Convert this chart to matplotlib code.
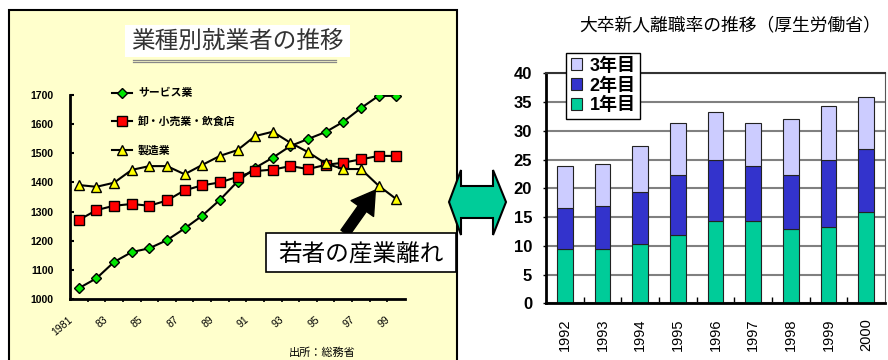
import matplotlib.pyplot as plt
import matplotlib.transforms as mtransforms
from matplotlib.patches import Rectangle, Polygon
from matplotlib.lines import Line2D
import numpy as np

plt.rcParams['font.family'] = ['Liberation Sans', 'Noto Sans CJK JP']

# [ DATA ]
#==========================================================================
years = [str(y) for y in range(1981, 2000)]
year_labels = ['1981', '83', '85', '87', '89', '91', '93', '95', '97', '99']
service = [1037, 1071, 1127, 1161, 1174, 1202, 1242, 1286, 1340, 1403,
           1450, 1485, 1525, 1549, 1573, 1608, 1655, 1697, 1697]
retail = [1271, 1305, 1320, 1326, 1320, 1338, 1373, 1390, 1400, 1419,
          1439, 1444, 1456, 1446, 1460, 1468, 1479, 1491, 1491]
manufacturing = [1391, 1385, 1399, 1443, 1456, 1456, 1428, 1460, 1491, 1511,
                 1559, 1574, 1536, 1504, 1465, 1446, 1446, 1389, 1343]

bar_years = ['1992', '1993', '1994', '1995', '1996', '1997', '1998', '1999', '2000']
first_year = [9.4, 9.4, 10.4, 11.9, 14.4, 14.4, 12.9, 13.3, 15.9]
second_year = [7.2, 7.6, 8.9, 10.5, 10.5, 9.5, 9.5, 11.6, 11.0]
third_year = [7.3, 7.3, 8.0, 8.9, 8.4, 7.4, 9.6, 9.4, 9.0]

W, H = 888, 360
def fx(px):
    return px / W
def fy(py):
    return 1 - py / H

fig = plt.figure(figsize=(8.88, 3.6), dpi=100)
CJK = ['Noto Sans CJK JP', 'DejaVu Sans']

# LEFT PANEL (yellow card)
#^^^^^^^^^^^^^^^^^^^^^^^^^^^^^^^^^^^^^^^^^^^^^^^^^^^^^^^^^^^^^^^^^^^^^^^^^^
fig.patches.append(Rectangle((fx(9), -0.05), fx(448), fy(10) + 0.05, transform=fig.transFigure,
                             facecolor='#FFFFCC', edgecolor='black', lw=1.5, zorder=-1))
fig.patches.append(Rectangle((fx(125), fy(57)), fx(225), 32 / H, transform=fig.transFigure,
                             facecolor='white', edgecolor='none', zorder=-0.5))
fig.text(fx(237), fy(41), '業種別就業者の推移', ha='center', va='center', fontsize=17,
         color='#333333', family=CJK)
for yy in (60, 62):
    fig.lines.append(Line2D([fx(133), fx(336)], [fy(yy), fy(yy)], transform=fig.transFigure,
                            color='#888888', lw=0.9))

ax1 = fig.add_axes([fx(70), fy(299), fx(335), 204 / H])
ax1.patch.set_visible(False)
x = np.arange(len(years))
ax1.plot(x, service, color='black', lw=1.5, marker='D', ms=5.5, mfc='#00E600', mec='black',
         mew=1, label='サービス業', zorder=3)
ax1.plot(x, retail, color='black', lw=1.5, marker='s', ms=7, mfc='#FF0000', mec='black',
         mew=1, label='卸・小売業・飲食店', zorder=3)
ax1.plot(x, manufacturing, color='black', lw=1.5, marker='^', ms=7.5, mfc='#FFFF00', mec='black',
         mew=1, label='製造業', zorder=3)

ax1.set_xlim(-0.5, len(years) - 0.5)
ax1.set_ylim(1000, 1700)
for s in ('top', 'right'):
    ax1.spines[s].set_visible(False)
for s in ('left', 'bottom'):
    ax1.spines[s].set_linewidth(2)

ax1.set_yticks(range(1000, 1701, 100))
ax1.tick_params(axis='y', direction='in', length=3, width=1.5, labelsize=7.5, pad=12)
for lab in ax1.get_yticklabels():
    lab.set_fontweight('bold')

ax1.set_xticks(x[::2])
ax1.set_xticklabels(year_labels, rotation=40, ha='right', va='center', rotation_mode='anchor',
                    fontsize=7.5)
ax1.tick_params(axis='x', which='major', length=0, pad=14)
ax1.set_xticks(np.arange(0.5, len(years) - 0.5, 1), minor=True)
ax1.tick_params(axis='x', which='minor', direction='out', length=2, width=1.2)
shift = mtransforms.ScaledTranslation(-7.5 / 100, 0, fig.dpi_scale_trans)
for lab in ax1.get_xticklabels():
    lab.set_transform(lab.get_transform() + shift)

ax1.legend(loc='upper left', bbox_to_anchor=(fx(112), fy(88)), bbox_transform=fig.transFigure,
           frameon=False, prop={'family': CJK, 'weight': 'bold', 'size': 7.8},
           handlelength=1.8, handletextpad=0.6, labelspacing=1.65, borderpad=0, borderaxespad=0)

# callout box + arrow
fig.patches.append(Rectangle((fx(266), fy(272)), fx(190), 39 / H, transform=fig.transFigure,
                             facecolor='white', edgecolor='black', lw=1.2, zorder=4))
fig.text(fx(361), fy(254), '若者の産業離れ', ha='center', va='center', fontsize=17,
         color='black', family=CJK, zorder=5)
ax1.annotate('', xy=(17, manufacturing[17]), xytext=(345, H - 233), textcoords='figure pixels',
             arrowprops=dict(arrowstyle='simple,head_length=0.9,head_width=1.1,tail_width=0.4',
                             mutation_scale=18, fc='black', ec='black', shrinkA=0, shrinkB=4))

fig.text(fx(322), fy(353), '出所：総務省', ha='center', va='center', fontsize=8, family=CJK)

# DOUBLE ARROW
#^^^^^^^^^^^^^^^^^^^^^^^^^^^^^^^^^^^^^^^^^^^^^^^^^^^^^^^^^^^^^^^^^^^^^^^^^^
arrow_pts = [(449, 202), (461, 170), (461, 186), (493, 186), (493, 170), (506, 202),
             (493, 235), (493, 218), (461, 218), (461, 235)]
fig.patches.append(Polygon([(fx(a), fy(b)) for a, b in arrow_pts], closed=True,
                           transform=fig.transFigure, facecolor='#00CC99', edgecolor='black', lw=1.5))

# RIGHT PANEL (stacked bars)
#^^^^^^^^^^^^^^^^^^^^^^^^^^^^^^^^^^^^^^^^^^^^^^^^^^^^^^^^^^^^^^^^^^^^^^^^^^
fig.text(fx(730), fy(25), '大卒新人離職率の推移（厚生労働省）', ha='center', va='center',
         fontsize=12.8, family=CJK)

ax2 = fig.add_axes([fx(546), fy(303.3), fx(339), 230 / H])
bx = np.arange(len(bar_years))
bw = 0.42
b1 = ax2.bar(bx, first_year, bw, color='#00CC99', edgecolor='#222222', lw=0.8, label='1年目')
b2 = ax2.bar(bx, second_year, bw, bottom=first_year, color='#3333CC', edgecolor='#222222',
             lw=0.8, label='2年目')
bottom3 = [a + b for a, b in zip(first_year, second_year)]
b3 = ax2.bar(bx, third_year, bw, bottom=bottom3, color='#CCCCFF', edgecolor='#222222',
             lw=0.8, label='3年目')

ax2.set_xlim(-0.5, len(bar_years) - 0.5)
ax2.set_ylim(0, 40)
ax2.set_yticks(range(0, 41, 5))
ax2.yaxis.grid(True, color='#808080', lw=1.5)
ax2.set_axisbelow(True)
for s in ('left', 'bottom'):
    ax2.spines[s].set_linewidth(2)
ax2.spines['top'].set_color('#333333')
ax2.spines['top'].set_linewidth(1.5)
ax2.spines['right'].set_color('#555555')
ax2.tick_params(axis='y', direction='out', length=2, width=1, labelsize=12, pad=8)
for lab in ax2.get_yticklabels():
    lab.set_fontweight('bold')
ax2.set_xticks(bx)
ax2.set_xticklabels(bar_years, rotation=90, fontsize=10.5)
ax2.tick_params(axis='x', which='major', length=0, pad=11)
ax2.set_xticks(np.arange(0.5, len(bar_years) - 0.5, 1), minor=True)
ax2.tick_params(axis='x', which='minor', direction='in', length=4, width=1)

leg = ax2.legend(handles=[b3, b2, b1], loc='upper left', bbox_to_anchor=(fx(566), fy(53)),
                 bbox_transform=fig.transFigure, fancybox=False, edgecolor='black',
                 framealpha=1, prop={'family': ['Liberation Sans', 'Noto Sans CJK JP'],
                                     'weight': 'bold', 'size': 13},
                 handlelength=0.65, handleheight=0.65, handletextpad=0.4, labelspacing=0.15,
                 borderpad=0.25, borderaxespad=0)
leg.get_frame().set_linewidth(1)

fig.savefig('out.png', dpi=100)
